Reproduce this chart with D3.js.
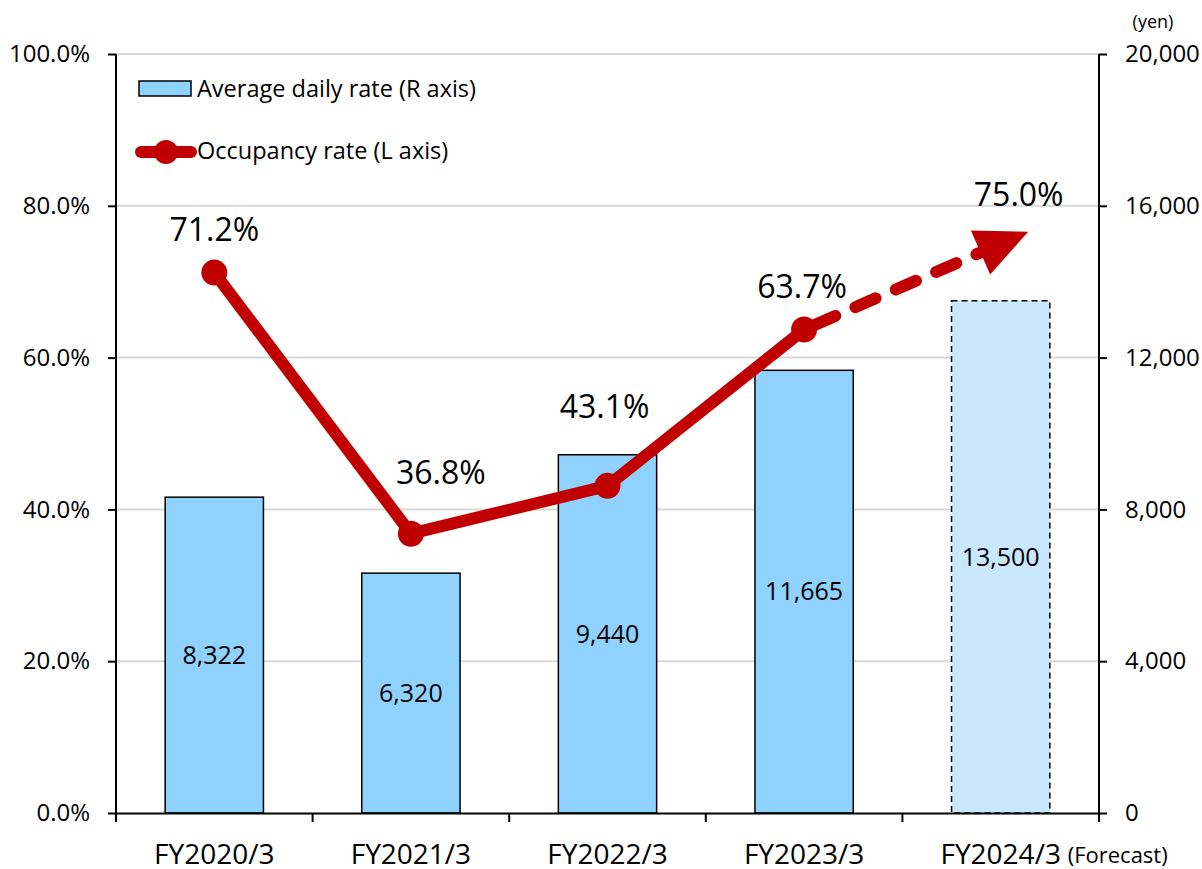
<!DOCTYPE html>
<html>
<head>
<meta charset="utf-8">
<script src="https://cdn.jsdelivr.net/npm/d3@7"></script>
<style>
  body { margin: 0; background: #fff; }
  svg text { font-family: "Open Sans", "Noto Sans", sans-serif; fill: #000; }
</style>
</head>
<body>
<svg width="1202" height="869"></svg>
<script>
// chart data
const categories = ['FY2020/3', 'FY2021/3', 'FY2022/3', 'FY2023/3', 'FY2024/3'];
const adrValues = [8322, 6320, 9440, 11665, 13500];      // yen, right axis
const occValues = [71.2, 36.8, 43.1, 63.7, 75.0];         // %, left axis
const isForecast = [false, false, false, false, true];
const leftTicks = [0, 20, 40, 60, 80, 100];
const rightTicks = [0, 4000, 8000, 12000, 16000, 20000];

const svg = d3.select('svg');
const margin = { top: 54, right: 103, bottom: 56, left: 116 };
const width = +svg.attr('width');
const height = +svg.attr('height');
const innerWidth = width - margin.left - margin.right;
const innerHeight = height - margin.top - margin.bottom;
const red = '#c00000';
const font = '"Open Sans", sans-serif';

const g = svg.append('g').attr('transform', `translate(${margin.left},${margin.top})`);

const x = d3.scaleBand().domain(categories).range([0, innerWidth]).paddingInner(0.5).paddingOuter(0.25);
const yL = d3.scaleLinear().domain([0, 100]).range([innerHeight, 0]);
const yR = d3.scaleLinear().domain([0, 20000]).range([innerHeight, 0]);
const cx = d => x(d) + x.bandwidth() / 2;

// gridlines
g.append('g').selectAll('line').data(leftTicks.filter(t => t > 0)).enter().append('line')
    .attr('x1', 0).attr('x2', innerWidth)
    .attr('y1', d => yL(d)).attr('y2', d => yL(d))
    .attr('stroke', '#d9d9d9').attr('stroke-width', 2);

// bars
const bars = categories.map((c, i) => ({ c, v: adrValues[i], f: isForecast[i] }));
g.selectAll('rect.bar').data(bars).enter().append('rect')
    .attr('class', 'bar')
    .attr('x', d => x(d.c))
    .attr('y', d => yR(d.v))
    .attr('width', x.bandwidth())
    .attr('height', d => innerHeight - yR(d.v))
    .attr('fill', d => d.f ? '#c9e7ff' : '#8fd1ff')
    .attr('stroke', '#000')
    .attr('stroke-width', 1.5)
    .attr('stroke-dasharray', d => d.f ? '6,4' : null);

g.selectAll('text.barval').data(bars).enter().append('text')
    .attr('class', 'barval')
    .attr('x', d => cx(d.c))
    .attr('y', d => (yR(d.v) + innerHeight) / 2)
    .attr('dy', '0.35em')
    .attr('text-anchor', 'middle')
    .style('font-size', '25px')
    .text(d => d3.format(',')(d.v));

// axes
const axL = g.append('g').call(d3.axisLeft(yL).tickValues(leftTicks).tickSize(8).tickFormat(d => d.toFixed(1) + '%'));
const axR = g.append('g').attr('transform', `translate(${innerWidth},0)`)
    .call(d3.axisRight(yR).tickValues(rightTicks).tickSize(8).tickFormat(d3.format(',')));
const axB = g.append('g').attr('transform', `translate(0,${innerHeight})`)
    .call(d3.axisBottom(x).tickSize(0).tickFormat(''));
[axL, axR, axB].forEach(a => {
    a.attr('font-family', font).attr('font-size', 24);
    a.select('.domain').attr('stroke', '#000').attr('stroke-width', 2);
    a.selectAll('.tick line').attr('stroke', '#000').attr('stroke-width', 2);
});
axL.select('.domain').attr('d', `M0,0V${innerHeight}`);
axR.select('.domain').attr('d', `M0,0V${innerHeight}`);
axL.selectAll('.tick text').attr('x', -26);
axR.selectAll('.tick text').attr('x', 26);
// category boundary ticks under the x axis
const step = x.step();
g.append('g').selectAll('line').data(d3.range(categories.length + 1)).enter().append('line')
    .attr('x1', i => i * step).attr('x2', i => i * step)
    .attr('y1', innerHeight).attr('y2', innerHeight + 9)
    .attr('stroke', '#000').attr('stroke-width', 2);
// category labels
g.append('g').selectAll('text').data(categories).enter().append('text')
    .attr('x', d => cx(d))
    .attr('y', innerHeight + 51)
    .attr('text-anchor', 'middle')
    .style('font-size', '28px')
    .text(d => d);
g.append('text')
    .attr('x', cx(categories[4]) + 67)
    .attr('y', innerHeight + 50)
    .style('font-size', '22px')
    .text('(Forecast)');
svg.append('text').attr('x', 1153).attr('y', 28).attr('text-anchor', 'middle')
    .style('font-size', '18px').text('(yen)');

// occupancy line
const pts = categories.map((c, i) => ({ c, v: occValues[i], x: cx(c), y: yL(occValues[i]) }));
const line = d3.line().x(d => d.x).y(d => d.y);
g.append('path').datum(pts.slice(0, 4)).attr('d', line)
    .attr('fill', 'none').attr('stroke', red).attr('stroke-width', 12).attr('stroke-linejoin', 'round');

// forecast dashed arrow
const p0 = pts[3], p1 = pts[4];
const ang = Math.atan2(p1.y - p0.y, p1.x - p0.x);
const tipX = p1.x + 30 * Math.cos(ang), tipY = p1.y + 30 * Math.sin(ang);
const headLen = 52, headW = 24;
const baseX = tipX - headLen * Math.cos(ang), baseY = tipY - headLen * Math.sin(ang);
g.append('line')
    .attr('x1', p0.x).attr('y1', p0.y).attr('x2', baseX + 6 * Math.cos(ang)).attr('y2', baseY + 6 * Math.sin(ang))
    .attr('stroke', red).attr('stroke-width', 12).attr('stroke-linecap', 'round')
    .attr('stroke-dasharray', '22,22').attr('stroke-dashoffset', -12);
const nx = -Math.sin(ang), ny = Math.cos(ang);
g.append('path')
    .attr('d', `M${tipX},${tipY}L${baseX + headW * nx},${baseY + headW * ny}L${baseX - headW * nx},${baseY - headW * ny}Z`)
    .attr('fill', red);

g.selectAll('circle.pt').data(pts.slice(0, 4)).enter().append('circle')
    .attr('class', 'pt')
    .attr('cx', d => d.x).attr('cy', d => d.y).attr('r', 13).attr('fill', red);

// occupancy labels (offsets relative to each point)
const labelDx = [0, 30, -3, -2, 18];
const labelDy = [-43, -61, -79, -43, -49];
g.selectAll('text.occ').data(pts).enter().append('text')
    .attr('class', 'occ')
    .attr('x', (d, i) => d.x + labelDx[i])
    .attr('y', (d, i) => d.y + labelDy[i])
    .attr('dy', '0.35em')
    .attr('text-anchor', 'middle')
    .style('font-size', '32px')
    .text(d => d.v.toFixed(1) + '%');

// legend
const lg = svg.append('g');
lg.append('rect').attr('x', 139).attr('y', 81).attr('width', 52).attr('height', 15)
    .attr('fill', '#8fd1ff').attr('stroke', '#000').attr('stroke-width', 1.5);
lg.append('text').attr('x', 197).attr('y', 89).attr('dy', '0.35em').style('font-size', '23.5px')
    .text('Average daily rate (R axis)');
lg.append('line').attr('x1', 141).attr('x2', 191).attr('y1', 152).attr('y2', 152)
    .attr('stroke', red).attr('stroke-width', 12).attr('stroke-linecap', 'round');
lg.append('circle').attr('cx', 166).attr('cy', 152).attr('r', 12).attr('fill', red);
lg.append('text').attr('x', 197).attr('y', 151).attr('dy', '0.35em').style('font-size', '23.5px')
    .text('Occupancy rate (L axis)');
</script>
</body>
</html>
